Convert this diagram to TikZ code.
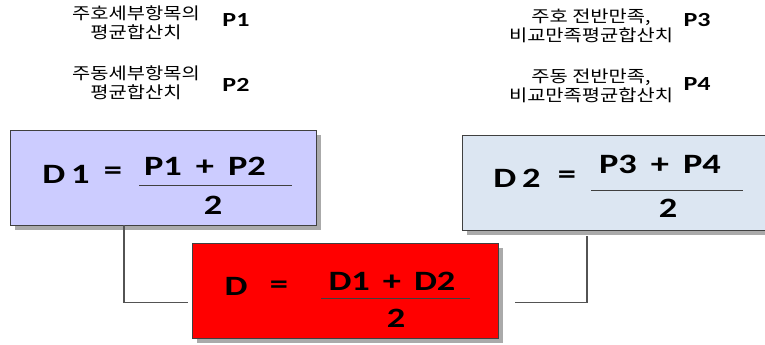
\documentclass[tikz,border=0pt]{standalone}
\usepackage{fontspec}
\setmainfont{Carlito}
\newfontfamily\eqf{Carlito}[FakeStretch=1.3]
\newfontfamily\kr{Noto Sans CJK KR}[FakeStretch=1.2]
\usetikzlibrary{shadows}
\definecolor{lav}{RGB}{204,204,255}
\definecolor{lblue}{RGB}{220,230,242}
\definecolor{bord}{RGB}{64,64,64}
\definecolor{shd}{RGB}{170,170,170}
\tikzset{
  box/.style={draw=bord, line width=0.9pt, inner sep=0pt,
    general shadow={fill=shd, shadow xshift=5pt, shadow yshift=-5pt}},
  krlabel/.style={font=\kr\fontsize{16.5}{19}\selectfont, align=center, inner sep=0pt},
  plabel/.style={font=\eqf\bfseries\fontsize{20}{22}\selectfont, inner sep=0pt},
  eq/.style={font=\eqf\bfseries\fontsize{28}{30}\selectfont, inner sep=0pt},
  bar/.style={line width=0.9pt, draw=bord},
  conn/.style={draw=bord!90, line width=1.3pt}
}
\begin{document}
\begin{tikzpicture}[x=1pt,y=-1pt]
\useasboundingbox (0,0) rectangle (765,345);
% labels
\node[krlabel] (l1) at (136,23) {주호세부항목의\\평균합산치};
\node[plabel] (p1) at (236,20) {P1};
\node[krlabel] (l2) at (136,83) {주동세부항목의\\평균합산치};
\node[plabel] (p2) at (236,85) {P2};
\node[krlabel] (l3) at (591,26) {주호 전반만족,\\비교만족평균합산치};
\node[plabel] (p3) at (697,20) {P3};
\node[krlabel] (l4) at (591,86) {주동 전반만족,\\비교만족평균합산치};
\node[plabel] (p4) at (697,84) {P4};
% boxes
\node[box, fill=lav, minimum width=306pt, minimum height=95pt] (d1) at (163,177.5) {};
\node[box, fill=lblue, minimum width=308pt, minimum height=95pt] (d2) at (616,182.5) {};
\node[box, fill=red, minimum width=306pt, minimum height=95pt] (d) at (345,290.5) {};
% D1 equation
\node[eq] (d1a) at (66,174) {D\hspace{6pt}1};
\node[eq] (d1b) at (113,173) {=};
\node[eq] (d1n) at (205,166) {P1\hspace{14pt}+\hspace{14pt}P2};
\node[eq] (d1d) at (213,205) {2};
\coordinate (d1l) at (139,185);
\coordinate (d1r) at (292,185);
\draw[bar] (d1l) -- (d1r);
% D2 equation
\node[eq] (d2a) at (517,178) {D\hspace{6pt}2};
\node[eq] (d2b) at (567,177) {=};
\node[eq] (d2n) at (660,164) {P3\hspace{14pt}+\hspace{14pt}P4};
\node[eq] (d2d) at (668,208) {2};
\coordinate (d2l) at (591,190);
\coordinate (d2r) at (743,190);
\draw[bar] (d2l) -- (d2r);
% D equation
\node[eq] (da) at (236,286) {D};
\node[eq] (db) at (279,287) {=};
\node[eq] (dn) at (392,281) {D1\hspace{13pt}+\hspace{13pt}D2};
\node[eq] (dd) at (396,318) {2};
\coordinate (dl) at (321,298);
\coordinate (dr) at (470,298);
\draw[bar] (dl) -- (dr);
% connectors
\draw[conn] ([xshift=-39pt]d1.south) |- ([xshift=-4pt,yshift=-12pt]d.west);
\draw[conn] ([xshift=17pt,yshift=-12pt]d.east) -| ([xshift=-29pt,yshift=-6pt]d2.south);
\end{tikzpicture}
\end{document}
